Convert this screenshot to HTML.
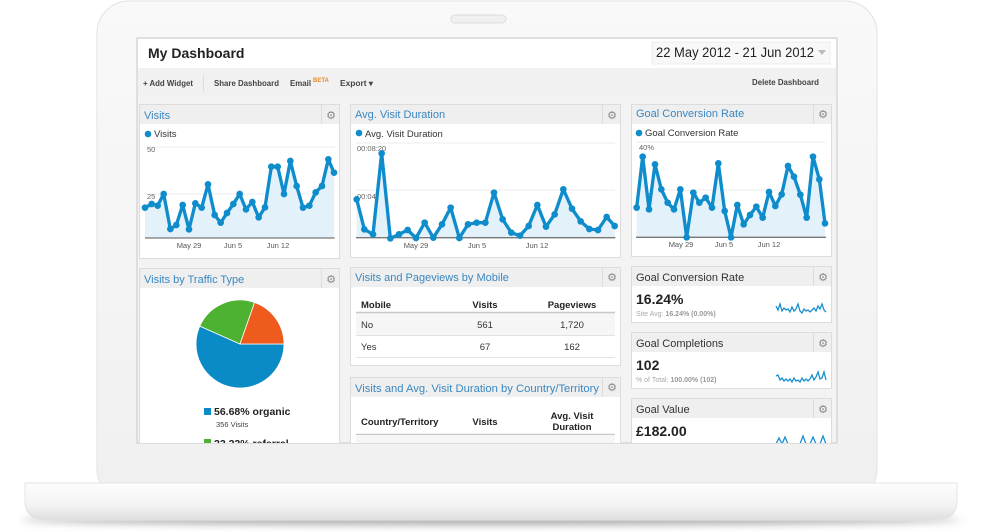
<!DOCTYPE html>
<html><head><meta charset="utf-8"><style>
html,body{margin:0;padding:0;background:#fff;}
svg{display:block;font-family:"Liberation Sans",Arial,sans-serif;}
</style></head><body>
<svg width="981" height="532" viewBox="0 0 981 532" xmlns="http://www.w3.org/2000/svg">
<defs>
<filter id="blur" x="-10%" y="-200%" width="120%" height="500%"><feGaussianBlur stdDeviation="4"/></filter>
<linearGradient id="base" x1="0" y1="0" x2="0" y2="1"><stop offset="0" stop-color="#fdfdfd"/><stop offset="0.6" stop-color="#f3f3f3"/><stop offset="1" stop-color="#dedede"/></linearGradient>
<linearGradient id="lid" x1="0" y1="0" x2="0" y2="1"><stop offset="0" stop-color="#f9f9f9"/><stop offset="1" stop-color="#f0f0f0"/></linearGradient>
<clipPath id="scr"><rect x="137" y="38" width="700" height="405"/></clipPath>
<marker id="dot" markerUnits="userSpaceOnUse" markerWidth="30" markerHeight="30" refX="15" refY="15"><circle cx="15" cy="15" r="10" fill="#0e8ccb"/></marker>
</defs>
<rect width="981" height="532" fill="#fff"/>
<ellipse cx="491" cy="520" rx="470" ry="5" fill="#aaa" filter="url(#blur)"/>
<rect x="97" y="1" width="780" height="500" rx="32" fill="url(#lid)" stroke="#e2e2e2"/>
<rect x="451" y="15" width="55" height="8" rx="4" fill="#f0f0f0" stroke="#dcdcdc"/>
<path d="M25 483 H957 V500 Q957 520 937 520 H45 Q25 520 25 500 Z" fill="url(#base)" stroke="#e4e4e4"/>
<rect x="137" y="38" width="700" height="405" fill="#f3f3f3" stroke="#c8c8c8"/>
<g clip-path="url(#scr)">
<rect x="138" y="39" width="698" height="29" fill="#fff"/>
<text x="148" y="58" font-size="14" font-weight="bold" fill="#222">My Dashboard</text>
<rect x="652" y="42" width="178" height="22" fill="#f8f8f8" stroke="#ececec"/>
<text x="656" y="57" font-size="13.5" fill="#222" textLength="158" lengthAdjust="spacingAndGlyphs">22 May 2012 - 21 Jun 2012</text>
<path d="M818 50 L826 50 L822 55 Z" fill="#bbb"/>
<rect x="138" y="68" width="698" height="29" fill="#f1f1f1"/>
<g font-size="8" font-weight="bold" fill="#444">
<text x="143" y="86" textLength="50" lengthAdjust="spacingAndGlyphs">+ Add Widget</text>
<text x="214" y="86" textLength="65" lengthAdjust="spacingAndGlyphs">Share Dashboard</text>
<text x="290" y="86" textLength="21" lengthAdjust="spacingAndGlyphs">Email</text>
<text x="340" y="86" textLength="33" lengthAdjust="spacingAndGlyphs">Export ▾</text>
<text x="752" y="85" textLength="67" lengthAdjust="spacingAndGlyphs">Delete Dashboard</text>
</g>
<text x="313" y="82" font-size="6" font-weight="bold" fill="#e88a2d">BETA</text>
<line x1="203.5" y1="75" x2="203.5" y2="92" stroke="#ddd"/>

<g stroke="#dcdcdc" fill="#fff">
<rect x="139.5" y="104.5" width="200" height="154"/>
<rect x="350.5" y="104.5" width="270" height="153"/>
<rect x="631.5" y="104.5" width="200" height="152"/>
<rect x="139.5" y="268.5" width="200" height="200"/>
<rect x="350.5" y="267.5" width="270" height="98"/>
<rect x="350.5" y="377.5" width="270" height="100"/>
<rect x="631.5" y="266.5" width="200" height="56"/>
<rect x="631.5" y="332.5" width="200" height="56"/>
<rect x="631.5" y="398.5" width="200" height="80"/>
</g>
<g fill="#efefef">
<rect x="140" y="105" width="199" height="19"/>
<rect x="351" y="105" width="269" height="19"/>
<rect x="632" y="105" width="199" height="19"/>
<rect x="140" y="269" width="199" height="19"/>
<rect x="351" y="268" width="269" height="19"/>
<rect x="351" y="378" width="269" height="19"/>
<rect x="632" y="267" width="199" height="19"/>
<rect x="632" y="333" width="199" height="19"/>
<rect x="632" y="399" width="199" height="19"/>
</g>
<g stroke="#ddd">
<line x1="321.5" y1="105" x2="321.5" y2="124"/><line x1="602.5" y1="105" x2="602.5" y2="124"/><line x1="813.5" y1="105" x2="813.5" y2="124"/>
<line x1="321.5" y1="269" x2="321.5" y2="288"/><line x1="602.5" y1="268" x2="602.5" y2="287"/><line x1="602.5" y1="378" x2="602.5" y2="397"/>
<line x1="813.5" y1="267" x2="813.5" y2="286"/><line x1="813.5" y1="333" x2="813.5" y2="352"/><line x1="813.5" y1="399" x2="813.5" y2="418"/>
</g>
<g font-size="11" fill="#888" text-anchor="middle">
<text x="331" y="119">⚙</text><text x="612" y="119">⚙</text><text x="823" y="118">⚙</text>
<text x="331" y="283">⚙</text><text x="612" y="281">⚙</text><text x="612" y="391">⚙</text>
<text x="823" y="281">⚙</text><text x="823" y="347">⚙</text><text x="823" y="413">⚙</text>
</g>
<g font-size="11" fill="#3a87c0">
<text x="144" y="119">Visits</text>
<text x="355" y="118">Avg. Visit Duration</text>
<text x="636" y="117">Goal Conversion Rate</text>
<text x="144" y="283">Visits by Traffic Type</text>
<text x="355" y="281">Visits and Pageviews by Mobile</text>
<text x="355" y="392" textLength="244" lengthAdjust="spacingAndGlyphs">Visits and Avg. Visit Duration by Country/Territory</text>
</g>
<g font-size="11" fill="#333">
<text x="636" y="281">Goal Conversion Rate</text>
<text x="636" y="347">Goal Completions</text>
<text x="636" y="413">Goal Value</text>
</g>
<g fill="#0e8ccb"><circle cx="148" cy="134" r="3.3"/><circle cx="359" cy="133" r="3.3"/><circle cx="639" cy="133" r="3.3"/></g>
<g font-size="9.5" fill="#333">
<text x="154" y="137">Visits</text>
<text x="365" y="137">Avg. Visit Duration</text>
<text x="645" y="136">Goal Conversion Rate</text>
</g>
<g stroke="#eee"><line x1="146" y1="147" x2="335" y2="147"/><line x1="146" y1="194" x2="335" y2="194"/>
<line x1="356" y1="143" x2="615" y2="143"/><line x1="356" y1="190" x2="615" y2="190"/>
<line x1="636" y1="142" x2="826" y2="142"/><line x1="636" y1="190" x2="826" y2="190"/></g>
<g font-size="7.5" fill="#666">
<text x="147" y="152">50</text><text x="147" y="199">25</text>
<text x="357" y="151">00:08:20</text><text x="357" y="199">00:04:10</text>
<text x="639" y="150">40%</text><text x="639" y="198">20%</text>
</g>
<g font-size="7.5" fill="#555" text-anchor="middle">
<text x="189" y="248">May 29</text><text x="233" y="248">Jun 5</text><text x="278" y="248">Jun 12</text>
<text x="416" y="248">May 29</text><text x="477" y="248">Jun 5</text><text x="537" y="248">Jun 12</text>
<text x="681" y="247">May 29</text><text x="724" y="247">Jun 5</text><text x="769" y="247">Jun 12</text>
</g>
<g transform="translate(130,30) scale(0.33333)">
<path d="M45 623 L45,533 65,522 83,527 101,492 121,597 139,585 158,525 177,598 196,520 215,533 234,463 254,555 272,578 291,549 310,522 329,492 348,538 367,516 386,562 405,532 424,410 443,410 462,492 481,393 500,468 519,533 538,527 557,487 576,468 595,388 612,428 L612 623 Z" fill="#e3f1fa"/>
<line x1="45" y1="624" x2="614" y2="624" stroke="#777" stroke-width="4"/>
<polyline points="45,533 65,522 83,527 101,492 121,597 139,585 158,525 177,598 196,520 215,533 234,463 254,555 272,578 291,549 310,522 329,492 348,538 367,516 386,562 405,532 424,410 443,410 462,492 481,393 500,468 519,533 538,527 557,487 576,468 595,388 612,428" fill="none" stroke="#0e8ccb" stroke-width="10" stroke-linejoin="round" marker-start="url(#dot)" marker-mid="url(#dot)" marker-end="url(#dot)"/>
</g>
<g transform="translate(130,30) scale(0.33333)">
<path d="M680 623 L680,508 703,598 729,613 755,370 781,625 807,613 833,600 858,624 884,578 910,623 936,583 962,533 988,624 1014,583 1040,578 1066,578 1092,488 1118,568 1144,608 1170,617 1196,588 1222,525 1248,590 1274,553 1300,478 1326,536 1352,574 1378,597 1404,600 1430,561 1454,588 L1454 623 Z" fill="#e3f1fa"/>
<line x1="678" y1="623" x2="1456" y2="623" stroke="#777" stroke-width="4"/>
<polyline points="680,508 703,598 729,613 755,370 781,625 807,613 833,600 858,624 884,578 910,623 936,583 962,533 988,624 1014,583 1040,578 1066,578 1092,488 1118,568 1144,608 1170,617 1196,588 1222,525 1248,590 1274,553 1300,478 1326,536 1352,574 1378,597 1404,600 1430,561 1454,588" fill="none" stroke="#0e8ccb" stroke-width="10" stroke-linejoin="round" marker-start="url(#dot)" marker-mid="url(#dot)" marker-end="url(#dot)"/>
</g>
<g transform="translate(620,30) scale(0.33333)">
<path d="M50 622 L50,533 68,380 87,538 105,403 124,478 143,518 162,538 181,478 200,622 220,488 238,518 257,503 276,533 295,400 314,543 333,622 352,525 371,583 390,555 409,530 428,563 447,486 466,528 485,493 504,408 522,440 541,494 560,563 579,380 598,448 615,580 L615 622 Z" fill="#e3f1fa"/>
<line x1="48" y1="622" x2="618" y2="622" stroke="#777" stroke-width="4"/>
<polyline points="50,533 68,380 87,538 105,403 124,478 143,518 162,538 181,478 200,622 220,488 238,518 257,503 276,533 295,400 314,543 333,622 352,525 371,583 390,555 409,530 428,563 447,486 466,528 485,493 504,408 522,440 541,494 560,563 579,380 598,448 615,580" fill="none" stroke="#0e8ccb" stroke-width="10" stroke-linejoin="round" marker-start="url(#dot)" marker-mid="url(#dot)" marker-end="url(#dot)"/>
</g>
<path d="M240 344 L284 344 A44 44 0 1 1 199.8 326.1 Z" fill="#0a8bc6" stroke="#fff" stroke-width="0.8"/>
<path d="M240 344 L199.8 326.1 A44 44 0 0 1 254.6 302.5 Z" fill="#4db232" stroke="#fff" stroke-width="0.8"/>
<path d="M240 344 L254.6 302.5 A44 44 0 0 1 284 344 Z" fill="#ef5a1d" stroke="#fff" stroke-width="0.8"/>
<rect x="204" y="408" width="7" height="7" fill="#0a8bc6"/>
<text x="214" y="415" font-size="10.5" font-weight="bold" fill="#222">56.68% organic</text>
<text x="216" y="427" font-size="7.5" fill="#444">356 Visits</text>
<rect x="204" y="439" width="7" height="7" fill="#4db232"/>
<text x="214" y="447" font-size="10.5" font-weight="bold" fill="#222">22.22% referral</text>
<g font-size="9.5" font-weight="bold" fill="#222">
<text x="361" y="308">Mobile</text>
<text x="485" y="308" text-anchor="middle">Visits</text>
<text x="572" y="308" text-anchor="middle">Pageviews</text>
<text x="361" y="425">Country/Territory</text>
<text x="485" y="425" text-anchor="middle">Visits</text>
<text x="572" y="419" text-anchor="middle">Avg. Visit</text>
<text x="572" y="430" text-anchor="middle">Duration</text>
</g>
<rect x="356" y="313" width="259" height="22" fill="#f6f6f6"/>
<line x1="356" y1="312.5" x2="615" y2="312.5" stroke="#c8c8c8" stroke-width="1.5"/>
<line x1="356" y1="335.5" x2="615" y2="335.5" stroke="#e2e2e2"/>
<line x1="356" y1="357.5" x2="615" y2="357.5" stroke="#e2e2e2"/>
<line x1="356" y1="434.5" x2="615" y2="434.5" stroke="#c8c8c8" stroke-width="1.5"/>
<rect x="356" y="435" width="259" height="10" fill="#f6f6f6"/>
<g font-size="9.5" fill="#333">
<text x="361" y="328">No</text><text x="485" y="328" text-anchor="middle">561</text><text x="572" y="328" text-anchor="middle">1,720</text>
<text x="361" y="350">Yes</text><text x="485" y="350" text-anchor="middle">67</text><text x="572" y="350" text-anchor="middle">162</text>
</g>
<g font-size="14" font-weight="bold" fill="#222">
<text x="636" y="304">16.24%</text><text x="636" y="370">102</text><text x="636" y="436">£182.00</text>
</g>
<g font-size="7" fill="#aaa">
<text x="636" y="316">Site Avg: <tspan font-weight="bold" fill="#999">16.24% (0.00%)</tspan></text>
<text x="636" y="382">% of Total: <tspan font-weight="bold" fill="#999">100.00% (102)</tspan></text>
</g>
<g fill="none" stroke="#1a8fcf" stroke-width="1.3">
<polyline points="776,306 778,310 780,304 782,311 784,308 786,310 788,309 790,312 792,307 794,311 796,309 798,304 800,311 802,313 804,309 806,311 808,310 810,312 812,310 814,308 816,311 818,306 820,309 822,304 824,310 826,312"/>
<polyline points="776,376 778,375 780,380 782,378 784,381 786,379 788,381 790,379 792,382 794,378 796,381 798,380 800,382 802,378 804,381 806,379 808,381 810,379 812,375 814,380 816,377 818,372 820,379 822,378 824,372 826,380"/>
<polyline points="776,444 779,438 782,444 785,437 788,444 800,444 803,436 806,444 810,444 813,437 816,444 820,444 823,436 826,444"/>
</g>
</g>
</svg>
</body></html>
